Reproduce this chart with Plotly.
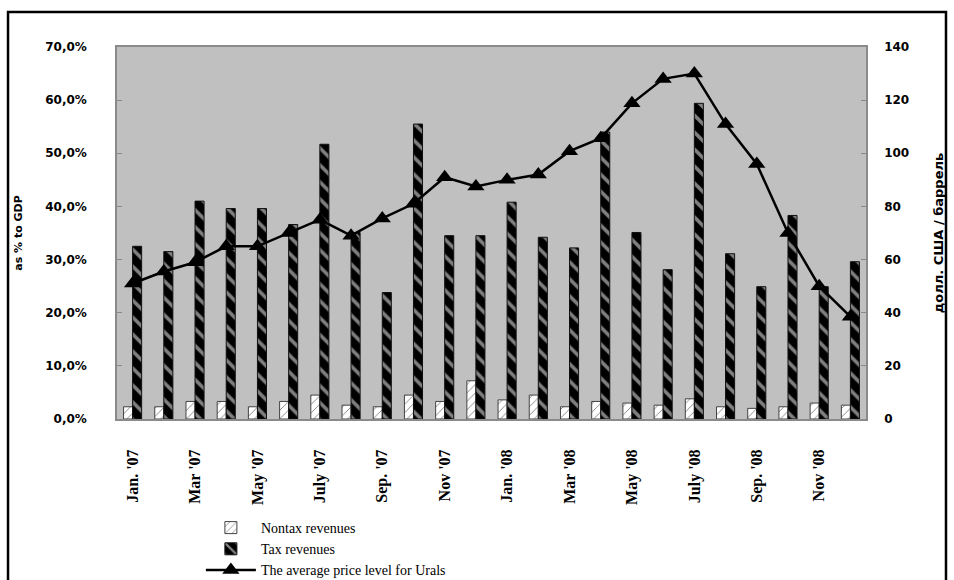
import plotly.graph_objects as go

# Months Jan 2007 .. Dec 2008
months = ["Jan. '07", "Feb '07", "Mar '07", "Apr '07", "May '07", "June '07",
          "July '07", "Aug. '07", "Sep. '07", "Oct. '07", "Nov '07", "Dec. '07",
          "Jan. '08", "Feb '08", "Mar '08", "Apr '08", "May '08", "June '08",
          "July '08", "Aug. '08", "Sep. '08", "Oct. '08", "Nov '08", "Dec. '08"]

# Budget revenues, % to GDP
nontax = [2.3, 2.3, 3.3, 3.3, 2.3, 3.3, 4.5, 2.6, 2.3, 4.5, 3.3, 7.2,
          3.6, 4.5, 2.3, 3.3, 3.0, 2.6, 3.8, 2.3, 2.0, 2.3, 3.0, 2.6]
tax = [32.5, 31.5, 41.0, 39.6, 39.6, 36.6, 51.7, 35.1, 23.8, 55.5, 34.5, 34.5,
       40.8, 34.2, 32.2, 54.0, 35.1, 28.1, 59.4, 31.1, 24.9, 38.3, 24.9, 29.6]

# Urals, USD per barrel
urals = [51.0, 55.5, 59.0, 65.0, 65.0, 70.0, 75.0, 69.0, 75.5, 81.0, 91.0, 87.5,
         90.0, 92.0, 100.8, 105.7, 118.8, 128.0, 130.0, 111.0, 96.0, 70.0, 50.0, 38.5]

x_labels = ["Jan. '07", "Mar '07", "May '07", "July '07", "Sep. '07", "Nov '07",
            "Jan. '08", "Mar '08", "May '08", "July '08", "Sep. '08", "Nov '08"]
left_ticks = [0, 10, 20, 30, 40, 50, 60, 70]
left_tick_text = ["0,0%", "10,0%", "20,0%", "30,0%", "40,0%", "50,0%", "60,0%", "70,0%"]
right_ticks = [0, 20, 40, 60, 80, 100, 120, 140]

xs = list(range(len(months)))
label_pos = [months.index(m) for m in x_labels]

fig = go.Figure()
fig.add_trace(go.Bar(
    x=xs, y=nontax, name="Nontax revenues",
    marker=dict(color="white", line=dict(color="#444444", width=1),
                pattern=dict(shape="/", fgcolor="black", bgcolor="white",
                             size=6, solidity=0.15)),
))
fig.add_trace(go.Bar(
    x=xs, y=tax, name="Tax revenues",
    marker=dict(color="black", line=dict(color="#111111", width=1),
                pattern=dict(shape="\\", fgcolor="white", bgcolor="black",
                             size=12, solidity=0.3)),
))
fig.add_trace(go.Scatter(
    x=xs, y=urals, name="The average price level for Urals", yaxis="y2",
    mode="lines+markers",
    line=dict(color="black", width=2.5),
    marker=dict(symbol="triangle-up", size=15, color="black"),
))

tick_font = dict(family="DejaVu Sans", size=12, color="black", weight="bold")
axis_col = "#8a8a8a"

fig.update_layout(
    width=954, height=580,
    margin=dict(l=117, r=88, t=47, b=161, autoexpand=False),
    paper_bgcolor="white", plot_bgcolor="#c0c0c0",
    barmode="group", bargap=0.42, bargroupgap=0.0,
    showlegend=True,
    legend=dict(x=0.112, y=-0.25, xanchor="left", yanchor="top",
                bgcolor="rgba(0,0,0,0)", tracegroupgap=0, itemwidth=50,
                font=dict(family="Liberation Serif", size=14, color="black")),
    xaxis=dict(range=[-0.5, len(months) - 0.5], tickmode="array",
               tickvals=label_pos, ticktext=x_labels, tickangle=-90,
               tickfont=dict(family="Liberation Serif", size=16, color="black", weight="bold"),
               showgrid=False, zeroline=False, showline=True, linecolor=axis_col,
               linewidth=2, mirror=True, ticks="", ticklabelstandoff=22,
               automargin=False),
    yaxis=dict(range=[0, 70], tickmode="array", tickvals=left_ticks,
               ticktext=left_tick_text, tickfont=tick_font,
               showgrid=False, zeroline=False, showline=True, linecolor=axis_col,
               linewidth=1.5, ticks="inside", ticklen=5, tickcolor=axis_col,
               ticklabelstandoff=26, automargin=False,
               title=dict(text="as % to GDP", standoff=20,
                          font=dict(family="DejaVu Sans", size=11, color="black",
                                    weight="bold"))),
    yaxis2=dict(range=[0, 140], overlaying="y", side="right", tickmode="array",
                tickvals=right_ticks, tickfont=tick_font,
                showgrid=False, zeroline=False, showline=True, linecolor=axis_col,
                linewidth=1.5, ticks="inside", ticklen=5, tickcolor=axis_col,
                ticklabelstandoff=14, automargin=False,
                title=dict(text="долл. США / баррель", standoff=26,
                           font=dict(family="DejaVu Sans", size=13, color="black",
                                     weight="bold"))),
    shapes=[dict(type="rect", xref="paper", yref="paper",
                 x0=-0.1455, x1=1.1068, y0=-0.6, y1=1.094,
                 line=dict(color="black", width=2.5), fillcolor="rgba(0,0,0,0)",
                 layer="below")],
)

fig.write_html("out.html")
